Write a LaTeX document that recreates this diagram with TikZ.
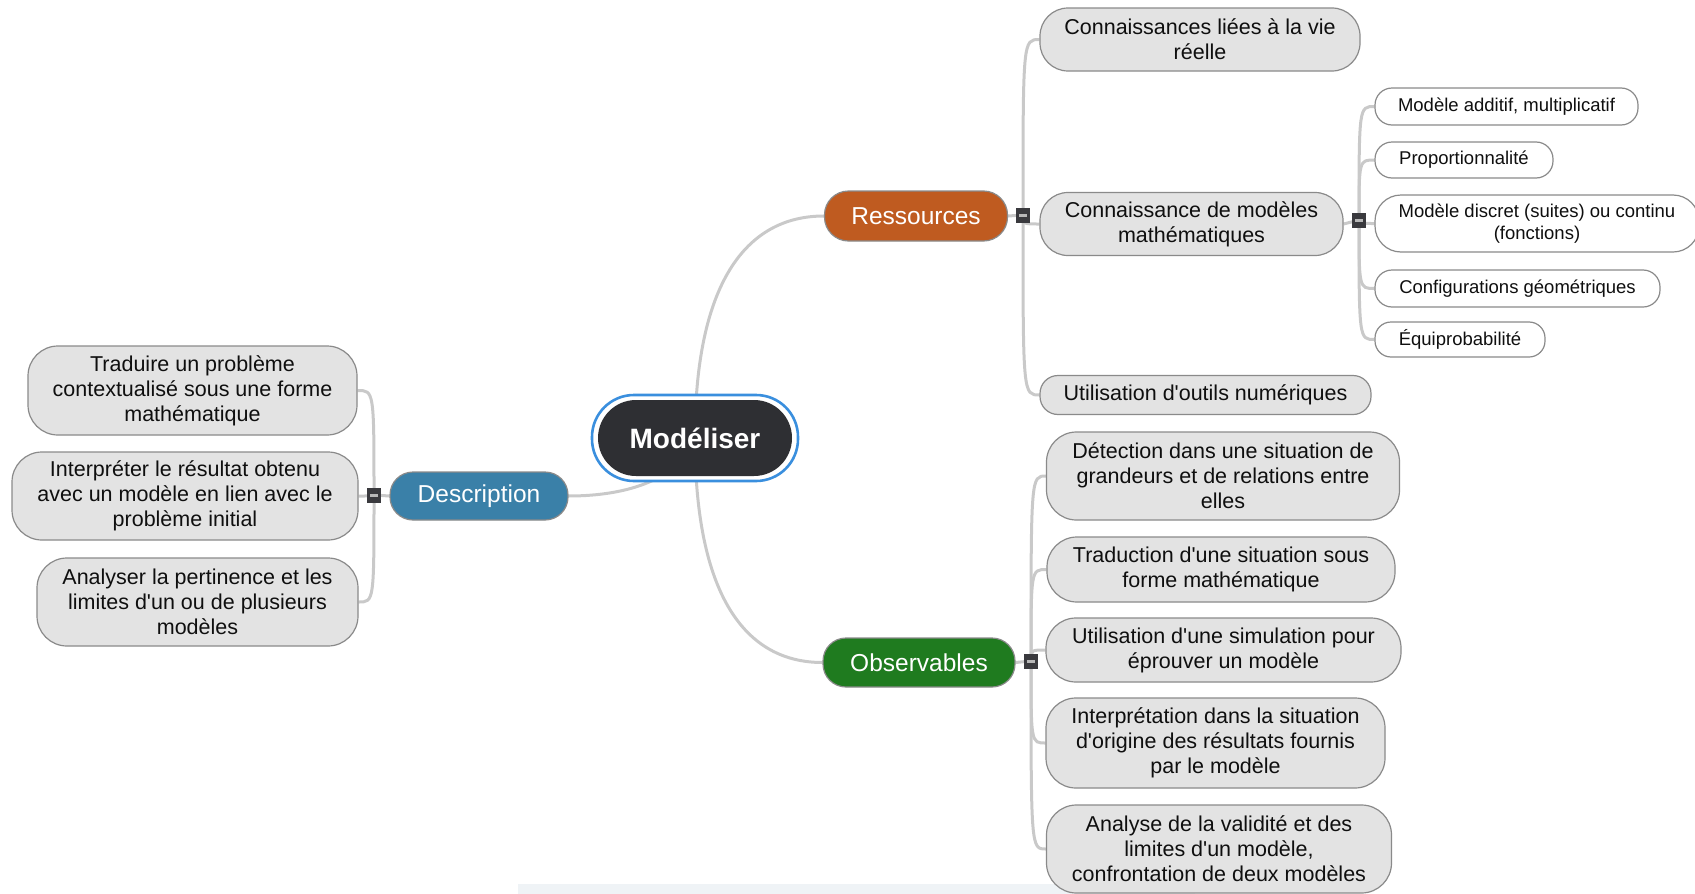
\documentclass[tikz,border=0pt]{standalone}
\usepackage{fontspec}
\setmainfont{Liberation Sans}
\usetikzlibrary{backgrounds}
\definecolor{leafgray}{HTML}{E3E3E3}
\definecolor{bordergray}{HTML}{8A8A8A}
\definecolor{conngray}{HTML}{C9C9C9}
\definecolor{textblack}{HTML}{0F0F0F}
\definecolor{resorange}{HTML}{BF5B20}
\definecolor{obsgreen}{HTML}{1F7B1F}
\definecolor{descblue}{HTML}{3A80A8}
\definecolor{moddark}{HTML}{2E2F33}
\definecolor{modblue}{HTML}{3A8FDE}
\definecolor{markdark}{HTML}{3A3A3E}
\definecolor{minusgray}{HTML}{B8B8B8}
\definecolor{stripblue}{HTML}{EFF3F6}
\tikzset{
  leaf/.style={rectangle, draw=bordergray, fill=leafgray, line width=1.2pt, align=center,
    inner sep=0pt, text=textblack, font=\fontsize{21.5}{25}\selectfont},
  smallleaf/.style={rectangle, draw=bordergray, fill=white, line width=1.2pt, align=center,
    inner sep=0pt, text=textblack, font=\fontsize{18.5}{22}\selectfont},
  branch/.style={rectangle, draw=bordergray, line width=1.2pt, align=center,
    inner sep=0pt, text=white, font=\fontsize{24.5}{28}\selectfont},
  marker/.style={rectangle, fill=markdark, inner sep=0pt, minimum width=14pt, minimum height=15pt},
  conn/.style={draw=conngray, line width=3pt},
}
\newcommand{\minusmark}{{\color{minusgray}\rule{8pt}{3pt}}}
\begin{document}
\begin{tikzpicture}[x=1pt,y=-1pt]
\useasboundingbox (0,0) rectangle (1695,894);
\fill[stripblue] (518,884) rectangle (1195,894);

% central node
\node[rectangle, fill=white, draw=modblue, line width=2.6pt, rounded corners=42pt,
  minimum width=206pt, minimum height=86pt] (modout) at (695,438) {};
\node[rectangle, fill=moddark, rounded corners=38pt, minimum width=194pt, minimum height=76pt,
  text=white, font=\bfseries\fontsize{28}{32}\selectfont] (mod) at (695,438) {Modéliser};

% branches
\node[branch, fill=resorange, rounded corners=24pt, minimum width=183pt, minimum height=50pt] (res) at (916,216) {Ressources};
\node[branch, fill=obsgreen, rounded corners=23pt, minimum width=192pt, minimum height=49pt] (obs) at (919,662.5) {Observables};
\node[branch, fill=descblue, rounded corners=23pt, minimum width=178pt, minimum height=48pt] (desc) at (479,496) {Description};

% markers
\node[marker] (mres) at (1023,215) {\minusmark};
\node[marker] (mobs) at (1031,661) {\minusmark};
\node[marker] (mdesc) at (374,495) {\minusmark};
\node[marker] (mmod) at (1359,220) {\minusmark};

% Ressources children
\node[leaf, rounded corners=28pt, minimum width=320pt, minimum height=63pt] (r1) at (1200,39.5) {Connaissances liées à la vie\\réelle};
\node[leaf, rounded corners=28pt, minimum width=303pt, minimum height=63pt] (r2) at (1191.5,224) {Connaissance de modèles\\mathématiques};
\node[leaf, rounded corners=18pt, minimum width=331pt, minimum height=39pt] (r3) at (1205.5,395) {Utilisation d\textquotesingle outils numériques};

% model children
\node[smallleaf, rounded corners=17pt, minimum width=263pt, minimum height=37pt] (s1) at (1506.5,106.5) {Modèle additif, multiplicatif};
\node[smallleaf, rounded corners=17pt, minimum width=178pt, minimum height=36pt] (s2) at (1464,160) {Proportionnalité};
\node[smallleaf, rounded corners=26pt, minimum width=324pt, minimum height=57pt] (s3) at (1537,223.5) {Modèle discret (suites) ou continu\\(fonctions)};
\node[smallleaf, rounded corners=17pt, minimum width=285pt, minimum height=37pt] (s4) at (1517.5,288.5) {Configurations géométriques};
\node[smallleaf, rounded corners=16pt, minimum width=170pt, minimum height=35pt] (s5) at (1460,339.5) {Équiprobabilité};

% Observables children
\node[leaf, rounded corners=30pt, minimum width=353pt, minimum height=88pt] (o1) at (1223,476) {Détection dans une situation de\\grandeurs et de relations entre\\elles};
\node[leaf, rounded corners=30pt, minimum width=348pt, minimum height=65pt] (o2) at (1221,569.5) {Traduction d\textquotesingle une situation sous\\forme mathématique};
\node[leaf, rounded corners=30pt, minimum width=355pt, minimum height=64pt] (o3) at (1223.5,650) {Utilisation d\textquotesingle une simulation pour\\éprouver un modèle};
\node[leaf, rounded corners=30pt, minimum width=339pt, minimum height=90pt] (o4) at (1215.5,743) {Interprétation dans la situation\\d\textquotesingle origine des résultats fournis\\par le modèle};
\node[leaf, rounded corners=30pt, minimum width=345pt, minimum height=88pt] (o5) at (1219,849) {Analyse de la validité et des\\limites d\textquotesingle un modèle,\\confrontation de deux modèles};

% Description children
\node[leaf, rounded corners=30pt, minimum width=329pt, minimum height=89pt] (l1) at (192.5,390.5) {Traduire un problème\\contextualisé sous une forme\\mathématique};
\node[leaf, rounded corners=30pt, minimum width=346pt, minimum height=88pt] (l2) at (185,496) {Interpréter le résultat obtenu\\avec un modèle en lien avec le\\problème initial};
\node[leaf, rounded corners=30pt, minimum width=321pt, minimum height=88pt] (l3) at (197.5,602) {Analyser la pertinence et les\\limites d\textquotesingle un ou de plusieurs\\modèles};

\begin{pgfonlayer}{background}
% central connectors
\draw[conn] (mod.center) .. controls (695,285) and (745,216) .. (res.west);
\draw[conn] (mod.center) .. controls (695,595) and (745,662.5) .. (obs.west);
\draw[conn] (mod.center) .. controls (680,478) and (630,496) .. (desc.east);
% Ressources
\draw[conn] (res.east) -- (mres.center);
\foreach \c in {r1,r2,r3}
  \draw[conn] (mres.center) .. controls (mres.center |- \c.west) and (mres.center |- \c.west) .. (\c.west);
% models
\draw[conn] (r2.east) -- (mmod.center);
\foreach \c in {s1,s2,s3,s4,s5}
  \draw[conn] (mmod.center) .. controls (mmod.center |- \c.west) and (mmod.center |- \c.west) .. (\c.west);
% Observables
\draw[conn] (obs.east) -- (mobs.center);
\foreach \c in {o1,o2,o3,o4,o5}
  \draw[conn] (mobs.center) .. controls (mobs.center |- \c.west) and (mobs.center |- \c.west) .. (\c.west);
% Description
\draw[conn] (desc.west) -- (mdesc.center);
\foreach \c in {l1,l2,l3}
  \draw[conn] (mdesc.center) .. controls (mdesc.center |- \c.east) and (mdesc.center |- \c.east) .. (\c.east);
\end{pgfonlayer}
\end{tikzpicture}
\end{document}
